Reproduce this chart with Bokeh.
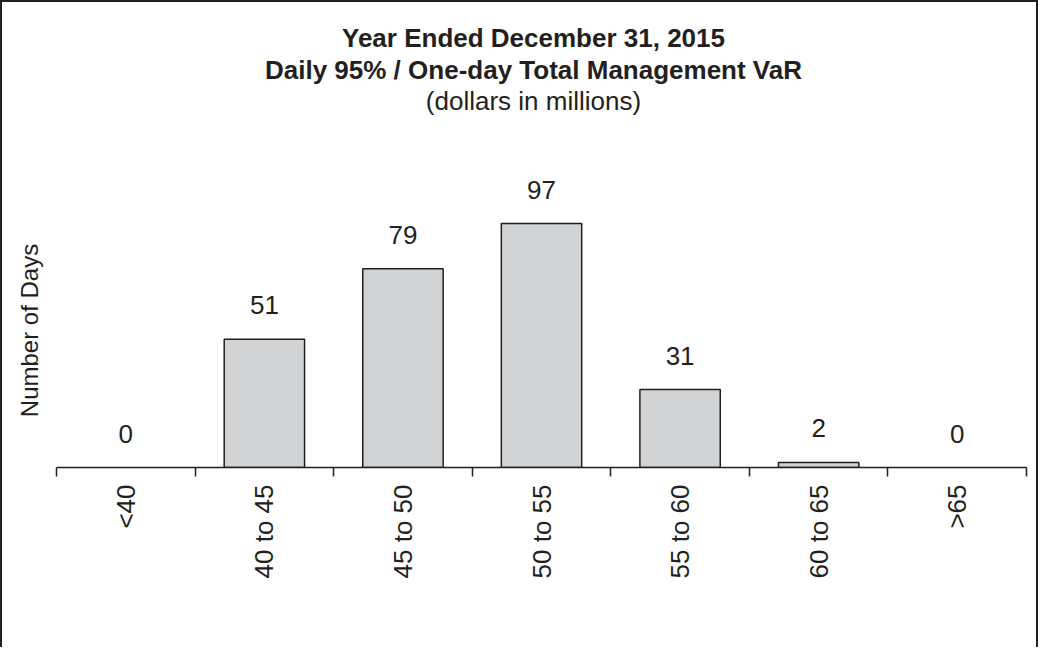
import math
from bokeh.plotting import figure
from bokeh.models import ColumnDataSource, LabelSet, Label, FixedTicker, Range1d
from bokeh.core.properties import value
from bokeh.embed import file_html
from bokeh.resources import INLINE

# ---- data ----
categories = ["<40", "40 to 45", "45 to 50", "50 to 55", "55 to 60", "60 to 65", ">65"]
days = [0, 51, 79, 97, 31, 2, 0]
title_lines = ["Year Ended December 31, 2015",
               "Daily 95% / One-day Total Management VaR",
               "(dollars in millions)"]
y_label = "Number of Days"

INK = "#231f20"
BAR = "#d1d3d4"
FONT = "Liberation Sans"

n = len(categories)
centers = [i + 0.5 for i in range(n)]
bounds = list(range(n + 1))

src = ColumnDataSource(dict(x=centers, top=days, lab=[str(v) for v in days],
                            lc=[INK if v > 0 else None for v in days]))

p = figure(width=1038, height=647, output_backend="svg", toolbar_location=None,
           x_range=Range1d(-0.39, n), y_range=Range1d(0, 185.7),
           min_border_left=2, min_border_right=12, min_border_top=0, min_border_bottom=180)
p.outline_line_color = None
p.grid.visible = False
p.background_fill_color = None
p.border_fill_color = None
p.styles = {"box-shadow": f"inset 2px 2px 0 0 {INK}, inset -2px 0 0 0 {INK}"}

p.vbar(x="x", top="top", width=0.58, source=src, fill_color=BAR,
       line_color="lc", line_width=1.5)

p.add_layout(LabelSet(x="x", y="top", text="lab", source=src, y_offset=34,
                      text_align="center", text_baseline="middle",
                      text_font=value(FONT), text_font_size=value("26px"),
                      text_color=INK))

# x axis
xa = p.xaxis[0]
xa.bounds = (0, n)
xa.ticker = FixedTicker(ticks=centers, minor_ticks=bounds)
xa.major_label_overrides = {c: lab for c, lab in zip(centers, categories)}
xa.major_label_orientation = math.pi / 2
xa.major_tick_line_color = None
xa.major_tick_out = 0
xa.major_tick_in = 0
xa.major_label_standoff = 8
xa.minor_tick_out = 9
xa.minor_tick_in = 0
xa.minor_tick_line_color = INK
xa.minor_tick_line_width = 1.5
xa.axis_line_color = INK
xa.axis_line_width = 1.5
xa.major_label_text_font = FONT
xa.major_label_text_font_size = "26px"
xa.major_label_text_color = INK

# y axis hidden; label drawn separately
p.yaxis.visible = False

p.add_layout(Label(x=27, y=137, x_units="screen", y_units="screen", text=y_label,
                   angle=math.pi / 2, text_align="center", text_baseline="middle",
                   text_font=FONT, text_font_size="24px", text_color=INK))

# titles
for i, (txt, sy) in enumerate(zip(title_lines, [430, 398, 367])):
    p.add_layout(Label(x=531, y=sy, x_units="screen", y_units="screen", text=txt,
                       text_align="center", text_baseline="middle",
                       text_font=FONT, text_font_size="26px",
                       text_font_style="bold" if i < 2 else "normal",
                       text_color=INK))

open("out.html", "w").write(file_html(p, INLINE))
